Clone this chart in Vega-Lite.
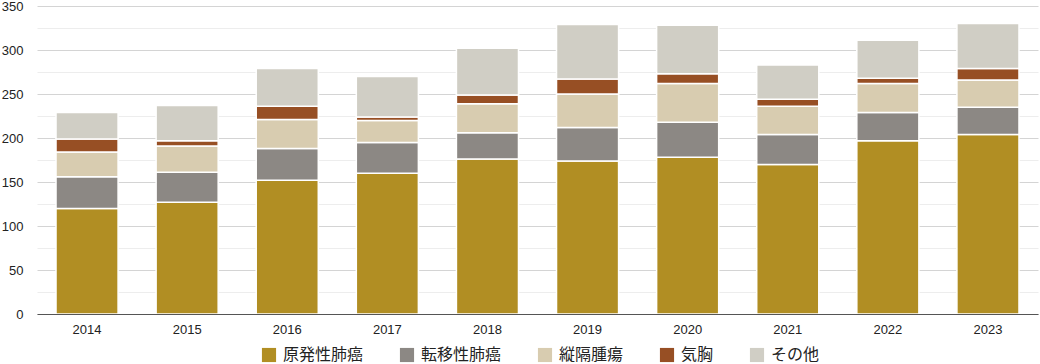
{
  "$schema": "https://vega.github.io/schema/vega-lite/v6.json",
  "autosize": {"type": "none"},
  "padding": {"left": 37, "top": 6, "right": 2, "bottom": 50},
  "width": 1001,
  "height": 308,
  "background": "white",
  "config": {"view": {"stroke": null}},
  "data": {
    "values": [
      {"year": "2014", "原発性肺癌": 120, "転移性肺癌": 36, "縦隔腫瘍": 28, "気胸": 15, "その他": 30},
      {"year": "2015", "原発性肺癌": 127, "転移性肺癌": 34, "縦隔腫瘍": 30, "気胸": 6, "その他": 40},
      {"year": "2016", "原発性肺癌": 152, "転移性肺癌": 36, "縦隔腫瘍": 33, "気胸": 15, "その他": 43},
      {"year": "2017", "原発性肺癌": 160, "転移性肺癌": 35, "縦隔腫瘍": 25, "気胸": 4, "その他": 46},
      {"year": "2018", "原発性肺癌": 176, "転移性肺癌": 30, "縦隔腫瘍": 33, "気胸": 10, "その他": 53},
      {"year": "2019", "原発性肺癌": 174, "転移性肺癌": 38, "縦隔腫瘍": 38, "気胸": 17, "その他": 62},
      {"year": "2020", "原発性肺癌": 178, "転移性肺癌": 40, "縦隔腫瘍": 44, "気胸": 11, "その他": 55},
      {"year": "2021", "原発性肺癌": 170, "転移性肺癌": 34, "縦隔腫瘍": 32, "気胸": 8, "その他": 39},
      {"year": "2022", "原発性肺癌": 197, "転移性肺癌": 32, "縦隔腫瘍": 33, "気胸": 6, "その他": 43},
      {"year": "2023", "原発性肺癌": 204, "転移性肺癌": 31, "縦隔腫瘍": 31, "気胸": 13, "その他": 51}
    ]
  },
  "transform": [
    {"fold": ["原発性肺癌", "転移性肺癌", "縦隔腫瘍", "気胸", "その他"], "as": ["type", "count"]},
    {"calculate": "indexof(['原発性肺癌','転移性肺癌','縦隔腫瘍','気胸','その他'], datum.type)", "as": "ord"}
  ],
  "mark": {"type": "bar", "stroke": "white", "strokeWidth": 1.5},
  "encoding": {
    "x": {
      "field": "year", "type": "ordinal",
      "scale": {"paddingInner": 0.38, "paddingOuter": 0.19},
      "axis": {"title": null, "labelAngle": 0, "ticks": false, "domainColor": "#555", "domainWidth": 1.2, "zindex": 1,
               "labelFont": "Liberation Sans", "labelFontSize": 13, "labelColor": "#222", "labelPadding": 9}
    },
    "y": {
      "field": "count", "type": "quantitative", "stack": "zero",
      "scale": {"domain": [0, 350], "nice": false},
      "axis": {"title": null, "values": [0,25,50,75,100,125,150,175,200,225,250,275,300,325,350],
               "labelExpr": "datum.value % 50 === 0 ? datum.label : ''",
               "gridColor": {"condition": {"test": "datum.value % 50 === 0", "value": "#d4d4d4"}, "value": "#ededed"},
               "gridWidth": 1,
               "domain": false, "ticks": false, "labelPadding": 14,
               "labelFont": "Liberation Sans", "labelFontSize": 13, "labelColor": "#222"}
    },
    "color": {
      "field": "type", "type": "nominal",
      "scale": {"domain": ["原発性肺癌", "転移性肺癌", "縦隔腫瘍", "気胸", "その他"],
                "range": ["#b18e23", "#8c8884", "#d8ccb0", "#974f24", "#d0cec5"]},
      "legend": {"title": null, "orient": "none", "legendX": 224, "legendY": 341, "direction": "horizontal", "symbolType": "square",
                 "symbolSize": 200, "symbolStrokeWidth": 0, "labelFontSize": 16, "labelFont": "Noto Sans CJK JP",
                 "labelColor": "#222", "columnPadding": 35, "labelOffset": 6}
    },
    "order": {"field": "ord", "type": "quantitative", "sort": "ascending"}
  }
}
